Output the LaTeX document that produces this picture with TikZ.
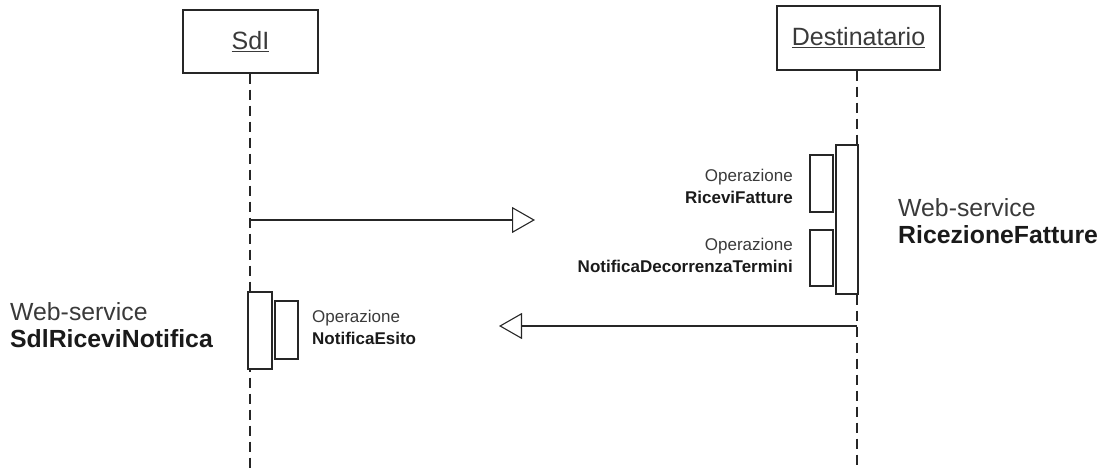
\documentclass[tikz,border=0pt]{standalone}
\usepackage{fontspec}
\setmainfont{Liberation Sans}
\usetikzlibrary{arrows.meta}
\definecolor{ln}{HTML}{262626}
\definecolor{tx}{HTML}{3A3A3A}
\definecolor{tb}{HTML}{1A1A1A}
\begin{document}
\begin{tikzpicture}[x=1pt,y=-1pt,
  lifebox/.style={draw=ln,line width=1.3pt,fill=white,inner sep=0pt,font=\fontsize{25}{28}\selectfont,text=tx},
  actbox/.style={draw=ln,line width=1.1pt,fill=white,inner sep=0pt},
  lifeline/.style={draw=ln,line width=1.1pt,dash pattern=on 10pt off 6pt},
  msg/.style={draw=ln,line width=1.1pt,-{Triangle[open,length=23pt,width=26pt,line width=1.1pt]}},
  oplabel/.style={inner sep=0pt,font=\fontsize{17}{22}\selectfont,text=tx},
  wslabel/.style={inner sep=0pt,font=\fontsize{24.8}{27}\selectfont,text=tx}]
\useasboundingbox (0,0) rectangle (1111,470);
% lifeline heads
\node[lifebox,minimum width=135pt,minimum height=63pt] (sdi) at (250.5,41.5) {\underline{SdI}};
\node[lifebox,minimum width=163pt,minimum height=64pt] (dest) at (858.5,38) {\underline{Destinatario}};
\coordinate (sdiend) at (250,470);
\coordinate (destend) at (857,470);
\draw[lifeline] (sdi.south -| sdiend) -- (sdiend);
\draw[lifeline] (dest.south -| destend) -- (destend);
% activations
\node[actbox,minimum width=22pt,minimum height=149pt] (actR) at (847,219.5) {};
\node[actbox,minimum width=23pt,minimum height=57pt] (opR1) at (821.5,183.5) {};
\node[actbox,minimum width=23pt,minimum height=56pt] (opR2) at (821.5,258) {};
\node[actbox,minimum width=24pt,minimum height=77pt] (actL) at (260,330.5) {};
\node[actbox,minimum width=23pt,minimum height=58pt] (opL) at (286.5,330) {};
% messages
\coordinate (m1s) at (250,220);
\coordinate (m1e) at (535,220);
\draw[msg] (m1s) -- (m1e);
\coordinate (m2s) at (857,326);
\coordinate (m2e) at (499,326);
\draw[msg] (m2s) -- (m2e);
% labels
\node[oplabel,anchor=east,align=right] (l1) at (793,186) {Operazione\\\textcolor{tb}{\textbf{RiceviFatture}}};
\node[oplabel,anchor=east,align=right] (l2) at (793,255) {Operazione\\\textcolor{tb}{\textbf{NotificaDecorrenzaTermini}}};
\node[oplabel,anchor=west,align=left] (l3) at (312,327) {Operazione\\\textcolor{tb}{\textbf{NotificaEsito}}};
\node[wslabel,anchor=west,align=left] (w1) at (898,221) {Web-service\\\textcolor{tb}{\textbf{RicezioneFatture}}};
\node[wslabel,anchor=west,align=left] (w2) at (10,325) {Web-service\\\textcolor{tb}{\textbf{SdlRiceviNotifica}}};
\end{tikzpicture}
\end{document}
